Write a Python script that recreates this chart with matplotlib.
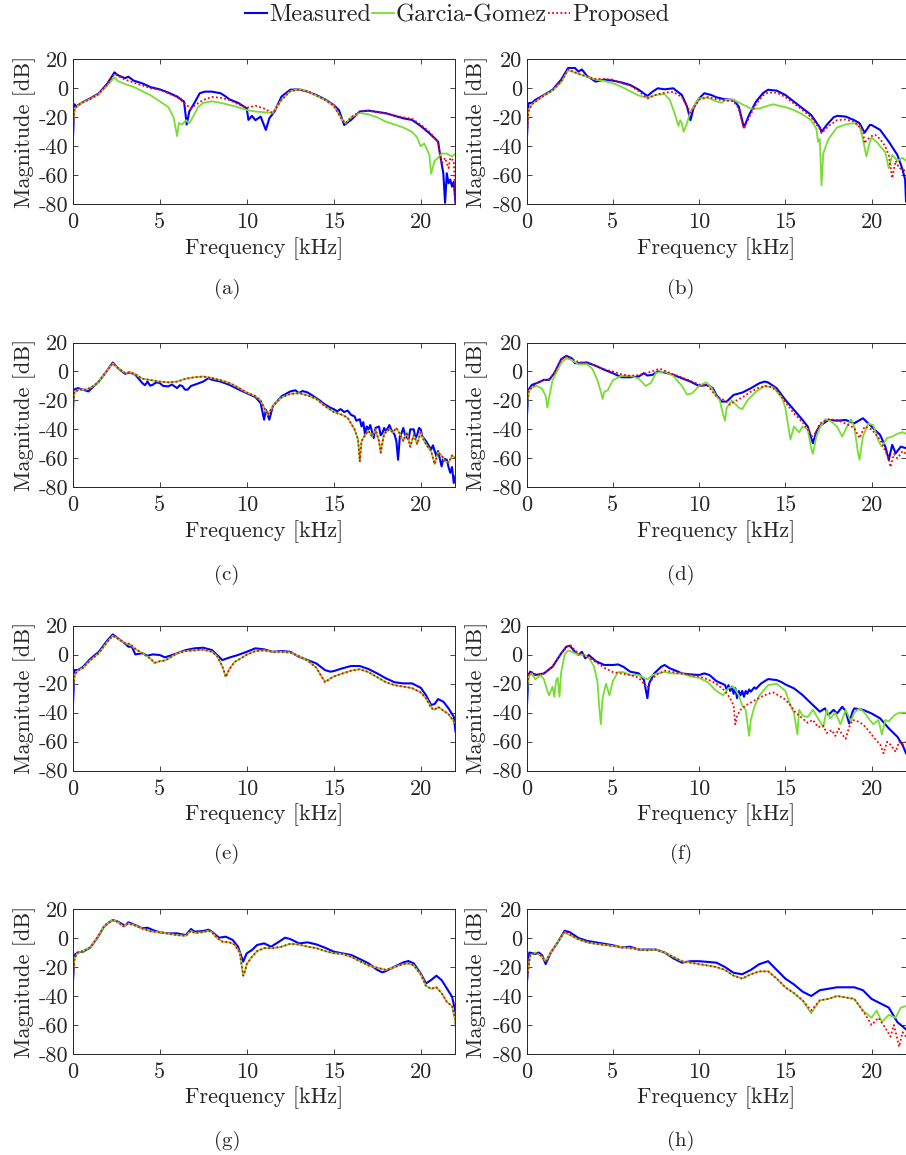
import matplotlib
matplotlib.use("Agg")
import matplotlib.pyplot as plt
import numpy as np

plt.rcParams['font.family'] = ['cmr10', 'DejaVu Serif']
plt.rcParams['mathtext.fontset'] = 'cm'
plt.rcParams['axes.unicode_minus'] = False
plt.rcParams['axes.formatter.use_mathtext'] = False

# ---------------- data (frequency kHz, magnitude dB) ----------------
A_MEAS = [(0.0,-38),(0.1,-11),(0.2,-12.6),(0.5,-10),(1.0,-7),(1.5,-3.5),(2.0,3.4),(2.4,11),(2.6,9),(3.0,7),(3.2,8),
          (3.5,5.3),(4.0,3.4),(4.5,0.7),(5.0,-0.7),(5.5,-3),(6.0,-5.7),(6.4,-9.2),(6.5,-19.5),(6.55,-25),(6.7,-16),
          (7.0,-10),(7.3,-3.4),(7.6,-2.3),(8.0,-2.3),(8.5,-3.4),(8.8,-5.7),(9.0,-7.6),(9.5,-10),(10.0,-13.8),(10.1,-21.8),
          (10.3,-19),(10.5,-22),(10.8,-19.5),(11.1,-28.7),(11.3,-20.7),(11.6,-16),(12.0,-5.7),(12.5,-1),(13.0,-0.7),
          (13.5,-2.3),(14.0,-4.6),(14.5,-7.6),(15.0,-11.5),(15.3,-15),(15.6,-25.3),(16.0,-21.8),(16.5,-16),(17.0,-15.4),
          (18.0,-17.2),(19.0,-20.7),(19.5,-21.8),(20.0,-26),(20.5,-31),(21.0,-36.8),(21.1,-44.8),(21.3,-58.6),
          (21.4,-79),(21.5,-58.6),(21.6,-65.5),(21.7,-63),(21.8,-67.8),(21.9,-64.4),(22.0,-79)]
A_GG = [(0.0,-30),(0.1,-14),(0.5,-10),(1.0,-7.5),(1.5,-4),(2.0,2),(2.4,7.5),(2.6,5),(3.0,3),(3.5,1),(4.0,-2),(4.5,-5),
        (5.0,-9),(5.5,-13),(5.8,-20),(6.0,-33),(6.1,-24),(6.3,-25),(6.5,-22),(6.7,-24),(6.9,-20),(7.2,-13),(7.5,-10),
        (8.0,-9),(8.5,-10),(9.0,-11.5),(9.5,-13),(10.0,-15),(10.5,-16),(11.0,-16.5),(11.5,-17),(12.0,-8),(12.5,-2),
        (13.0,-0.5),(13.5,-2),(14.0,-5),(14.5,-8),(15.0,-12),(15.5,-22),(15.7,-24),(16.0,-20),(16.5,-17),(17.0,-18),
        (17.5,-20),(18.0,-23),(18.5,-25),(19.0,-27),(19.5,-30),(19.8,-34),(20.0,-40),(20.2,-38),(20.5,-46),(20.6,-59),
        (20.8,-50),(21.0,-48),(21.2,-45),(21.5,-45),(21.8,-47),(22.0,-45)]
A_PROP = [(0.0,-30),(0.1,-14),(0.5,-10),(1.0,-7.5),(1.5,-4),(2.0,3),(2.4,10),(3.0,6),(3.5,4),(4.0,2),(4.5,0),(5.0,-1),
          (5.5,-3.5),(6.0,-6),(6.5,-11),(6.8,-14),(7.0,-12),(7.5,-8),(8.0,-6),(8.5,-6.5),(9.0,-8),(9.5,-11),(10.0,-13.5),
          (10.5,-12),(11.0,-14),(11.5,-17),(12.0,-8),(12.5,-2),(13.0,-1),(13.5,-2),(14.0,-5),(14.5,-8),(15.0,-12),
          (15.5,-22),(15.7,-24),(16.0,-20),(16.5,-16),(17.0,-15.5),(18.0,-17.5),(19.0,-20),(19.5,-21),(20.0,-25),
          (20.5,-30),(21.0,-37),(21.2,-52),(21.4,-48),(21.6,-55),(21.7,-48),(21.9,-50),(22.0,-78)]

B_MEAS = [(0.0,-38),(0.1,-10.3),(0.3,-10),(0.5,-8),(1.0,-4.6),(1.5,-1),(2.0,6),(2.4,14),(2.8,14),(3.0,11.5),(3.2,13),
          (3.5,8.5),(4.0,4.6),(4.5,6),(5.0,5.3),(5.5,4),(6.0,2.3),(6.5,-1),(7.0,-5.3),(7.3,-2.3),(7.6,0),(8.0,-0.7),
          (8.5,0),(9.0,-4.6),(9.3,-12.6),(9.5,-22),(9.7,-12.6),(10.0,-7),(10.3,-3.4),(10.7,-4.6),(11.0,-6.2),(11.5,-7.6),
          (12.0,-8),(12.3,-12.6),(12.6,-27),(12.9,-18.4),(13.3,-9.2),(13.7,-3.4),(14.0,-1),(14.5,-1.6),(15.0,-4.6),
          (15.5,-9.2),(16.0,-13.8),(16.5,-18.4),(17.0,-27),(17.1,-30),(17.4,-25.3),(17.8,-20),(18.0,-19),(18.5,-19.5),
          (19.0,-22),(19.3,-24),(19.6,-30.6),(19.9,-25.3),(20.0,-25.3),(20.5,-28.7),(21.0,-36.8),(21.5,-46),
          (21.8,-56),(21.95,-63),(22.0,-78)]
B_GG = [(0.0,-30),(0.1,-15),(0.3,-11),(1.0,-5),(1.5,-1.5),(2.0,4),(2.4,12.5),(3.0,10),(3.5,8),(4.0,6),(4.5,5),(5.0,3.5),
        (5.5,1),(6.0,-2),(6.5,-5),(7.0,-6.5),(7.5,-4.5),(8.0,-4),(8.3,-8),(8.6,-18),(8.8,-26),(8.9,-22),(9.0,-24),
        (9.1,-30),(9.3,-24),(9.5,-16),(10.0,-7),(10.5,-6.5),(11.0,-9),(11.3,-10),(11.5,-8),(12.0,-8),(12.5,-11),
        (13.0,-14),(13.5,-14),(14.0,-12),(14.3,-11),(14.6,-12),(15.0,-13),(15.5,-15),(16.0,-18),(16.5,-22),(16.8,-28),
        (16.9,-37),(17.0,-35),(17.1,-67),(17.2,-45),(17.5,-35),(18.0,-27),(18.5,-25),(19.0,-24),(19.3,-26),(19.5,-35),
        (19.7,-47),(19.9,-37),(20.0,-34),(20.3,-37),(20.5,-40),(20.8,-44),(21.0,-55),(21.2,-46),(21.5,-50),
        (21.8,-48),(22.0,-50)]
B_PROP = [(0.0,-36),(0.1,-16),(0.3,-11),(1.0,-5),(1.5,-1.5),(2.0,5),(2.4,13),(3.0,10),(3.5,8),(4.0,6.5),(4.5,6.5),
          (5.0,6),(5.5,3.5),(6.0,2),(6.5,-2),(7.0,-7),(7.5,-4.5),(8.0,-3),(8.5,-2.5),(9.0,-6),(9.5,-17),(10.0,-8),
          (10.5,-6),(11.0,-7.5),(11.5,-8.5),(12.0,-9),(12.3,-14),(12.6,-28),(12.9,-20),(13.3,-11),(13.7,-5),(14.0,-3),
          (14.5,-3),(15.0,-6),(15.5,-10.5),(16.0,-15),(16.5,-20),(17.0,-28),(17.1,-31),(17.5,-26),(18.0,-22),
          (18.5,-21.5),(19.0,-23),(19.5,-29),(19.6,-38),(19.7,-36),(20.0,-33),(20.2,-32),(20.5,-35),(20.8,-40),
          (21.0,-46),(21.2,-62),(21.4,-50),(21.6,-55),(21.8,-56),(22.0,-57)]

C_MEAS = [(0.0,-35.6),(0.05,-12.6),(0.3,-11.5),(0.6,-12.6),(0.9,-13.8),(1.2,-10.3),(1.5,-7),(2.0,1),(2.3,6.2),(2.6,2.3),
          (3.0,-1.6),(3.3,-0.7),(3.6,-2.3),(4.0,-8),(4.15,-9.5),(4.3,-7),(4.45,-9.8),(4.6,-9.2),(4.8,-7.5),(5.0,-8),
          (5.2,-10),(5.5,-10.3),(5.7,-9),(6.0,-11.5),(6.15,-9.5),(6.3,-10),(6.45,-12.5),(6.6,-12.6),(6.8,-10),(7.0,-9.2),
          (7.5,-7),(7.8,-4.6),(8.0,-5.7),(8.5,-7),(9.0,-9.2),(9.5,-12.2),(10.0,-15),(10.5,-17.7),
          (10.8,-21.8),(11.0,-33.3),(11.1,-26.4),(11.3,-33.3),(11.5,-24),(12.0,-17.2),(12.5,-13.8),(12.8,-13),
          (13.0,-15),(13.2,-13.5),(13.5,-14.5),(13.7,-16),(14.0,-18.4),(14.2,-20),(14.4,-22),(14.6,-23.5),(14.8,-25),
          (15.0,-26),(15.2,-27.5),(15.4,-26),(15.6,-28),(15.8,-27),(16.0,-30),(16.2,-31),(16.3,-34),(16.5,-33),
          (16.6,-38),(16.7,-35),(16.8,-43.7),(16.9,-38),(17.0,-40),(17.1,-37),(17.3,-46),(17.4,-39),(17.6,-38),
          (17.7,-44),(17.8,-42.5),(17.9,-39),(18.0,-41.4),(18.2,-37),(18.3,-40),(18.5,-43.7),(18.6,-48),(18.7,-61),
          (18.8,-45),(18.9,-42.5),(19.0,-39),(19.1,-44),(19.3,-47),(19.4,-40),(19.6,-40),(19.7,-46),(19.8,-43.7),
          (19.9,-39),(20.0,-40),(20.1,-45),(20.3,-48),(20.4,-50),(20.6,-54),(20.7,-51),(20.9,-58.6),(21.0,-55),
          (21.2,-65.5),(21.3,-60),(21.5,-61),(21.6,-66),(21.7,-70),(21.8,-66),(21.9,-77),(22.0,-72)]
C_GG = [(0.0,-27),(0.1,-14),(0.4,-12.5),(0.8,-12.5),(1.2,-10),(1.5,-7),(2.0,1),(2.3,5.5),(2.6,2.5),(3.0,-1),(3.3,-0.5),
        (3.6,-2),(4.0,-5),(4.5,-6),(5.0,-7),(5.5,-7.5),(6.0,-7),(6.5,-5),(7.0,-4),(7.5,-3.5),(8.0,-4.5),(8.5,-6),
        (9.0,-8),(9.5,-11),(10.0,-14.5),(10.5,-17),(10.8,-20),(11.0,-25),(11.2,-30),(11.4,-26),(11.7,-21),(12.0,-18),
        (12.5,-15.5),(13.0,-15),(13.5,-16.5),(14.0,-19),(14.5,-24),(15.0,-28),(15.5,-30),(15.8,-32),(16.0,-36),
        (16.2,-40),(16.4,-47),(16.5,-62),(16.6,-48),(16.8,-44),(17.0,-41),(17.2,-45),(17.4,-40),(17.6,-48),(17.7,-56),
        (17.9,-43),(18.2,-40),(18.4,-42),(18.6,-39),(18.8,-43),(19.0,-48),(19.2,-42),(19.4,-52),(19.6,-44),(19.8,-50),
        (20.0,-42),(20.2,-48),(20.4,-52),(20.6,-55),(20.8,-64),(21.0,-56),(21.2,-58),(21.4,-62),(21.6,-63),
        (21.8,-58),(22.0,-60)]
C_PROP = [(0.0,-27),(0.1,-14),(0.4,-12.5),(0.8,-12.5),(1.2,-10),(1.5,-7),(2.0,1),(2.3,5.5),(2.6,2.5),(3.0,-1),
          (3.3,-0.5),(3.6,-2),(4.0,-5),(4.5,-6),(5.0,-7),(5.5,-7.5),(6.0,-7),(6.5,-5),(7.0,-4),(7.5,-3.5),(8.0,-4.5),
          (8.5,-6),(9.0,-8),(9.5,-11),(10.0,-14.5),(10.5,-17),(10.8,-20),(11.0,-25),(11.2,-30),(11.4,-26),(11.7,-21),
          (12.0,-18),(12.5,-15.5),(13.0,-15),(13.5,-16.5),(14.0,-19),(14.5,-24),(15.0,-28),(15.5,-30),(15.8,-32),
          (16.0,-36),(16.2,-40),(16.4,-47),(16.5,-62),(16.6,-48),(16.8,-44),(17.0,-41),(17.2,-45),(17.4,-40),
          (17.6,-48),(17.7,-56),(17.9,-43),(18.2,-40),(18.4,-42),(18.6,-39),(18.8,-43),(19.0,-48),(19.2,-42),
          (19.4,-52),(19.6,-44),(19.8,-50),(20.0,-42),(20.2,-48),(20.4,-52),(20.6,-55),(20.8,-64),(21.0,-56),
          (21.2,-58),(21.4,-62),(21.6,-63),(21.8,-58),(22.0,-60)]

D_MEAS = [(0.0,-33.5),(0.1,-12.7),(0.3,-9.3),(0.6,-8),(1.0,-5.8),(1.3,-5.8),(1.6,-1.2),(2.0,8.5),(2.3,10.8),(2.6,9.2),
          (2.8,5.7),(3.0,5.7),(3.5,6.2),(4.0,3.9),(4.5,1.2),(5.0,-1.2),(5.5,-4),(6.0,-4),(6.5,-3.5),(6.8,-1.2),
          (7.0,-2.8),(7.3,-2.3),(7.6,0),(8.0,-0.7),(8.5,-2.3),(9.0,-4.7),(9.5,-7),(10.0,-10),(10.5,-9.3),(10.8,-11.6),
          (11.0,-16.2),(11.3,-20.8),(11.6,-20.8),(12.0,-16.2),(12.5,-14.6),(13.0,-11.6),(13.5,-8.1),(13.8,-7),
          (14.0,-7.6),(14.5,-11.6),(15.0,-19.6),(15.5,-26.5),(16.0,-33.5),(16.3,-38),(16.6,-49.6),(16.8,-41.5),
          (17.0,-37.6),(17.5,-33.5),(18.0,-34),(18.5,-33.5),(19.0,-35.8),(19.5,-32.3),(20.0,-38),(20.5,-43.8),
          (20.8,-51.9),(21.0,-61),(21.2,-50.7),(21.4,-56.5),(21.7,-51.9),(22.0,-53)]
D_GG = [(0.0,-28),(0.1,-14),(0.3,-11),(0.6,-10),(0.9,-12),(1.1,-17),(1.2,-25),(1.3,-18),(1.5,-6),(2.0,6),(2.3,9),
        (2.6,8),(3.0,5),(3.5,5),(3.8,2),(4.1,-6),(4.3,-14),(4.4,-19),(4.5,-14),(4.7,-13),(5.0,-6),(5.5,-3),(6.0,-3),
        (6.5,-5),(6.9,-10),(7.2,-8),(7.5,-1),(8.0,0),(8.5,-3),(9.0,-10),(9.3,-16),(9.6,-15),(10.0,-10),(10.4,-7.5),
        (10.7,-11),(11.0,-17),(11.2,-20),(11.4,-30),(11.5,-34),(11.6,-25),(11.9,-20),(12.3,-25),(12.5,-26),(12.8,-20),
        (13.3,-14),(13.8,-10),(14.3,-11),(14.8,-18),(15.0,-25),(15.2,-40),(15.3,-47),(15.5,-38),(15.8,-42),(16.0,-38),
        (16.3,-40),(16.5,-53),(16.6,-57),(16.8,-45),(17.0,-39),(17.3,-33),(17.6,-34),(18.0,-38),(18.3,-45),(18.5,-40),
        (18.8,-33),(19.0,-38),(19.2,-55),(19.3,-61),(19.5,-45),(19.8,-36),(20.1,-37),(20.4,-48),(20.6,-52),
        (20.9,-46),(21.2,-45),(21.5,-43),(21.8,-42),(22.0,-43)]
D_PROP = [(0.0,-26),(0.1,-14),(0.3,-11),(0.6,-8),(1.0,-6),(1.3,-5.5),(1.6,-1),(2.0,8),(2.3,10.5),(2.6,9),(3.0,6.5),
          (3.5,6),(4.0,4),(4.5,1.5),(5.0,0),(5.5,-2),(6.0,-3),(6.5,-2.5),(7.0,-1),(7.5,1),(7.7,2),(8.0,0.5),(8.5,-2),
          (9.0,-4),(9.5,-6.5),(10.0,-9),(10.5,-10),(11.0,-17),(11.5,-20),(11.8,-23),(12.0,-21),(12.5,-18),(13.0,-14),
          (13.5,-11),(14.0,-10),(14.5,-13),(15.0,-21),(15.5,-29),(16.0,-35),(16.3,-40),(16.5,-45),(16.8,-42),
          (17.0,-36),(17.5,-33),(18.0,-33.5),(18.5,-36),(19.0,-39),(19.3,-46),(19.6,-38),(20.0,-40),(20.5,-47),
          (20.8,-55),(21.0,-60),(21.1,-66),(21.3,-57),(21.5,-60),(21.8,-55),(22.0,-57)]

E_MEAS = [(0.0,-38.9),(0.1,-10.6),(0.3,-10.6),(0.6,-8.3),(1.0,-3),(1.5,2),(2.0,10),(2.3,14),(2.6,11.3),(3.0,7.8),
          (3.2,5.5),(3.4,5.5),(3.6,0.2),(4.0,1),(4.3,-0.7),(4.6,0.2),(5.0,-0.2),(5.3,-1.8),(5.6,-0.7),(6.0,1),
          (6.5,3.2),(7.0,4.4),(7.5,4.8),(8.0,3.2),(8.3,-0.2),(8.6,-3.7),(9.0,-2),(9.5,-0.2),(10.0,2),(10.5,4.4),
          (11.0,3.7),(11.5,2),(12.0,2.5),(12.5,2),(13.0,-1.4),(13.5,-3.7),(14.0,-6),(14.5,-10.6),(14.8,-11.7),
          (15.0,-11.3),(15.5,-9.4),(16.0,-7.8),(16.5,-7.8),(17.0,-9.9),(17.5,-12.9),(18.0,-16.3),(18.5,-19),
          (19.0,-19.8),(19.5,-19.8),(20.0,-22.8),(20.3,-27.8),(20.6,-34.7),(20.8,-34),(21.0,-30.6),(21.3,-32.4),
          (21.6,-37),(21.9,-42.8),(22.0,-53)]
E_GG = [(0.0,-26),(0.1,-14),(0.3,-11),(0.6,-9),(1.0,-4),(1.5,1),(2.0,9),(2.3,13),(2.6,11),(3.0,8),(3.3,7),(3.6,4),
        (4.0,1),(4.5,-3),(4.7,-6),(5.0,-4.5),(5.3,-4),(5.6,-2),(6.0,1),(6.5,2.5),(7.0,3),(7.5,3.5),(8.0,2),(8.3,-1),
        (8.6,-8),(8.8,-15),(9.0,-10),(9.3,-5),(9.6,-3),(10.0,0),(10.5,2.5),(11.0,3),(11.5,2),(12.0,2),(12.5,1.5),
        (13.0,-1),(13.5,-4),(14.0,-9),(14.3,-15),(14.5,-18.5),(14.8,-16.5),(15.0,-15),(15.5,-13),(16.0,-11),
        (16.5,-10),(17.0,-12),(17.5,-15.5),(18.0,-19),(18.5,-21),(19.0,-22),(19.5,-23),(20.0,-26),(20.3,-30),
        (20.6,-36),(20.8,-38),(21.0,-36),(21.3,-38.5),(21.6,-41),(21.9,-46),(22.0,-47)]
E_PROP = [(0.0,-27),(0.1,-14),(0.3,-11),(0.6,-9),(1.0,-4),(1.5,1),(2.0,9),(2.3,13),(2.6,11),(3.0,8),(3.3,7.5),
          (3.6,4),(4.0,1),(4.5,-3),(4.7,-5.5),(5.0,-4.5),(5.3,-4),(5.6,-2),(6.0,1),(6.5,2.5),(7.0,3),(7.5,3.5),(8.0,2),
          (8.3,-1),(8.6,-8),(8.8,-15.5),(9.0,-10),(9.3,-5),(9.6,-3),(10.0,0),(10.5,2.5),(11.0,3),(11.5,2),(12.0,2),
          (12.5,1.5),(13.0,-1),(13.5,-4),(14.0,-9),(14.3,-15),(14.5,-19),(14.8,-16.5),(15.0,-15),(15.5,-13),
          (16.0,-11),(16.5,-10),(17.0,-12),(17.5,-15.5),(18.0,-19),(18.5,-21),(19.0,-22),(19.5,-23),(20.0,-26),
          (20.3,-30),(20.6,-37),(20.8,-38),(21.0,-36),(21.3,-38.5),(21.6,-41),(21.9,-46),(22.0,-45)]

F_MEAS = [(0.0,-39),(0.1,-14),(0.2,-11.7),(0.5,-14),(1.0,-12.9),(1.5,-8.3),(2.0,0.9),(2.3,5.5),(2.5,6.2),(2.8,2),
          (3.0,-0.2),(3.2,2),(3.4,-2.5),(3.6,-0.2),(4.0,-4.4),(4.5,-7.1),(5.0,-7.1),(5.3,-6.7),(5.6,-8.3),(6.0,-11.7),
          (6.5,-12.9),(6.8,-17.5),(7.0,-30),(7.1,-19.8),(7.4,-12.9),(7.8,-8.3),(8.0,-7.1),(8.3,-9.4),(8.7,-11.3),
          (9.0,-12.9),(9.5,-13.6),(10.0,-14),(10.3,-12.9),(10.6,-14),(11.0,-18.2),(11.3,-19.8),(11.5,-20.9),
          (11.6,-24),(11.7,-21),(11.8,-25),(11.9,-22),(12.0,-27),(12.1,-23),(12.2,-30),(12.3,-25),(12.4,-28),
          (12.5,-25),(12.6,-29),(12.7,-25),(12.8,-27),(12.9,-24),(13.0,-25.5),(13.2,-22.5),(13.3,-23.5),
          (13.6,-19.8),(14.0,-16.8),(14.5,-17.5),(14.8,-19),(15.0,-20.5),(15.5,-23.2),(16.0,-27.8),(16.5,-33.6),
          (16.8,-37),(17.0,-39.3),(17.3,-37),(17.5,-41.6),(17.8,-38),(18.0,-40.5),(18.3,-35.9),(18.5,-38.9),
          (18.7,-47.4),(18.9,-39.3),(19.0,-37),(19.5,-38),(20.0,-40.5),(20.5,-43.9),(21.0,-50.8),(21.5,-56.6),
          (21.8,-62.3),(22.0,-68)]
F_GG = [(0.0,-28),(0.1,-15),(0.3,-13),(0.5,-17),(0.8,-14),(1.0,-17),(1.2,-25),(1.3,-28),(1.5,-22),(1.6,-29),(1.7,-18),
        (1.8,-16),(1.9,-29),(2.0,-12),(2.2,0),(2.4,3),(2.6,2),(3.0,0),(3.3,0),(3.6,-2),(3.9,-8),(4.1,-18),(4.2,-35),
        (4.3,-48),(4.4,-30),(4.6,-20),(4.8,-28),(5.0,-18),(5.3,-12),(5.6,-12),(6.0,-14),(6.5,-14),(6.8,-16),(7.0,-17),
        (7.3,-14),(7.6,-13),(8.0,-12),(8.5,-13),(9.0,-13),(9.5,-15),(10.0,-16),(10.5,-19),(11.0,-25),(11.4,-28),
        (11.7,-23),(12.0,-22),(12.3,-28),(12.5,-35),(12.7,-38),(12.9,-56),(13.0,-45),(13.2,-36),(13.5,-28),(14.0,-21),
        (14.5,-20),(15.0,-25),(15.3,-35),(15.5,-40),(15.7,-55),(15.8,-38),(16.0,-42),(16.3,-43),(16.6,-38),
        (16.9,-44),(17.2,-50),(17.4,-38),(17.6,-44),(17.9,-40),(18.2,-48),(18.5,-38),(18.8,-46),(19.0,-40),
        (19.3,-37),(19.6,-40),(19.9,-45),(20.1,-48),(20.4,-45),(20.6,-55),(20.8,-45),(21.0,-46),(21.3,-42),
        (21.6,-40),(22.0,-40)]
F_PROP = [(0.0,-26),(0.1,-14),(0.3,-12),(0.6,-14),(1.0,-13),(1.5,-8),(2.0,1),(2.3,5),(2.5,7),(2.8,3),(3.0,1),
          (3.5,-1),(4.0,-5),(4.5,-9),(5.0,-12),(5.5,-13),(6.0,-14),(6.5,-16),(6.8,-20),(7.0,-23),(7.2,-18),(7.5,-14),
          (8.0,-11),(8.5,-12),(9.0,-13),(9.5,-14),(10.0,-15),(10.5,-17),(11.0,-20),(11.5,-25),(11.8,-30),(12.0,-35),
          (12.1,-48),(12.2,-42),(12.4,-38),(12.7,-35),(13.0,-33),(13.3,-31),(13.6,-29),(14.0,-27),(14.3,-26),
          (14.6,-28),(15.0,-31),(15.3,-35),(15.6,-40),(16.0,-44),(16.3,-47),(16.6,-45),(16.9,-50),(17.2,-49),
          (17.4,-54),(17.7,-52),(17.9,-56),(18.1,-51),(18.3,-55),(18.5,-58),(18.7,-50),(18.9,-45),(19.2,-46),
          (19.5,-48),(19.8,-52),(20.0,-55),(20.2,-58),(20.5,-62),(20.7,-68),(20.9,-60),(21.1,-62),(21.4,-67),
          (21.6,-60),(21.8,-62),(22.0,-60)]

G_MEAS = [(0.0,-33.6),(0.1,-11.7),(0.3,-9.9),(0.6,-9.4),(1.0,-6.7),(1.4,-0.2),(1.8,7.8),(2.0,10),(2.3,12.4),
          (2.6,11.3),(3.0,8.5),(3.2,10.8),(3.5,9.4),(4.0,6.7),(4.3,7.1),(4.6,5.5),(5.0,3.9),(5.5,3.2),(6.0,3.2),
          (6.5,2),(6.8,6.2),(7.0,4.4),(7.5,4.8),(7.8,5.7),(8.0,4.4),(8.4,0.2),(8.8,0.9),(9.2,-1.4),(9.5,-6),
          (9.7,-12.9),(9.8,-16.3),(10.0,-10.6),(10.3,-8.3),(10.6,-4.8),(11.0,-3.7),(11.4,-6),(11.8,-3),(12.2,0.2),
          (12.5,-0.7),(13.0,-3.7),(13.5,-3),(14.0,-4.4),(14.5,-6.7),(15.0,-9.4),(15.5,-10.6),(16.0,-11.7),
          (16.5,-14.5),(17.0,-17.5),(17.5,-22),(17.8,-23.7),(18.0,-22.8),(18.5,-19.8),(19.0,-16.8),(19.3,-15.9),
          (19.6,-17.5),(20.0,-24.4),(20.3,-31.3),(20.6,-29),(20.9,-26),(21.2,-29),(21.5,-34.7),(21.8,-40.5),
          (22.0,-50.8),(22.05,-71)]
G_GG = [(0.0,-28),(0.1,-14),(0.3,-10),(0.6,-9),(1.0,-6.5),(1.4,0),(1.8,8),(2.0,10),(2.3,12.5),(2.6,11),(2.9,8),
        (3.2,10),(3.5,9),(4.0,6.5),(4.5,4.5),(5.0,4),(5.5,3),(6.0,2),(6.5,1.5),(6.8,5),(7.0,3.5),(7.5,4),(7.8,5),
        (8.0,4),(8.3,0),(8.6,-2.5),(9.0,-3),(9.3,-4.5),(9.6,-10),(9.8,-26),(9.9,-23),(10.0,-18),(10.3,-13),(10.6,-9),
        (11.0,-7),(11.5,-7),(12.0,-6),(12.5,-4),(13.0,-4.5),(13.5,-6),(14.0,-7),(14.5,-9),(15.0,-10.5),(15.5,-11),
        (16.0,-13),(16.5,-16),(17.0,-19),(17.5,-20.5),(18.0,-22),(18.5,-20),(19.0,-18),(19.3,-17.5),(19.6,-19),
        (20.0,-25),(20.3,-33),(20.6,-35),(20.9,-34),(21.2,-38),(21.5,-44),(21.8,-47),(22.0,-58),(22.05,-66)]
G_PROP = [(0.0,-30),(0.1,-14),(0.3,-10),(0.6,-9),(1.0,-6.5),(1.4,0),(1.8,8),(2.0,10),(2.3,12.5),(2.6,11),(2.9,8),
          (3.2,10),(3.5,9),(4.0,6.5),(4.5,4.5),(5.0,4),(5.5,3),(6.0,2),(6.5,1.5),(6.8,5),(7.0,3.5),(7.5,4),(7.8,5),
          (8.0,4),(8.3,0),(8.6,-2.5),(9.0,-3),(9.3,-4.5),(9.6,-10),(9.8,-26),(9.9,-23),(10.0,-18),(10.3,-13),
          (10.6,-9),(11.0,-7),(11.5,-7),(12.0,-6),(12.5,-4),(13.0,-4.5),(13.5,-6),(14.0,-7),(14.5,-9),(15.0,-10.5),
          (15.5,-11),(16.0,-13),(16.5,-16),(17.0,-19),(17.5,-20.5),(18.0,-22),(18.5,-20),(19.0,-18),(19.3,-17.5),
          (19.6,-19),(20.0,-25),(20.3,-33),(20.6,-35),(20.9,-34),(21.2,-38),(21.5,-44),(21.8,-47),(22.0,-56),
          (22.05,-68)]

H_MEAS = [(0.0,-33),(0.15,-10),(0.5,-11),(0.7,-10),(0.9,-12),(1.1,-18),(1.4,-10),(1.8,-3),(2.2,5),(2.5,4),(3.0,0),
          (3.5,-2),(4.0,-3),(5.0,-5),(5.5,-6.5),(6.0,-6),(6.5,-8),(7.0,-8),(7.5,-8),(8.0,-10),(8.5,-14),(9.0,-17),
          (9.5,-16),(10.0,-16),(10.5,-16.5),(11.0,-17),(11.5,-20),(12.0,-24),(12.5,-25),(13.0,-22),(13.5,-18),
          (14.0,-16),(14.5,-22),(15.0,-28),(15.5,-32),(16.0,-37),(16.5,-40),(17.0,-36),(18.0,-34),(19.0,-34),
          (19.5,-36),(20.0,-42),(20.5,-45),(21.0,-48),(21.5,-58),(22.0,-63)]
H_GG = [(0.0,-28),(0.2,-12),(0.5,-10),(0.8,-12),(1.1,-16),(1.4,-10),(1.8,-3),(2.2,4),(2.5,2),(3.0,-1),(3.5,-3),
        (4.0,-4),(5.0,-5.5),(6.0,-7),(7.0,-8.5),(7.5,-8),(8.0,-10),(8.5,-13),(9.0,-16),(10.0,-18),(11.0,-20),
        (11.5,-22),(12.0,-26),(12.5,-28),(13.0,-25),(13.5,-23),(14.0,-23),(14.5,-28),(15.0,-34),(15.5,-38),
        (16.0,-43),(16.5,-52),(17.0,-43),(17.5,-42),(18.0,-40),(19.0,-42),(19.5,-50),(20.0,-55),(20.3,-50),
        (20.6,-58),(21.0,-53),(21.4,-55),(21.7,-48),(22.0,-47)]
H_PROP = [(0.0,-30),(0.2,-12),(0.5,-10),(0.8,-12),(1.1,-16),(1.4,-10),(1.8,-3),(2.2,4.5),(2.5,2.5),(3.0,-1),
          (3.5,-3),(4.0,-4),(5.0,-5.5),(6.0,-7),(7.0,-8.5),(7.5,-8),(8.0,-10),(8.5,-13),(9.0,-16),(10.0,-18),
          (11.0,-20),(11.5,-22),(12.0,-26),(12.5,-28),(13.0,-25),(13.5,-23),(14.0,-23),(14.5,-28),(15.0,-34),
          (15.5,-38),(16.0,-43),(16.5,-50),(17.0,-43),(17.5,-42),(18.0,-40),(19.0,-42),(19.6,-52),(20.0,-60),
          (20.4,-55),(20.8,-62),(21.1,-68),(21.3,-60),(21.6,-75),(21.8,-65),(22.0,-68)]

SERIES = ["Measured", "Garcia-Gomez", "Proposed"]
PANEL_LABELS = ["(a)", "(b)", "(c)", "(d)", "(e)", "(f)", "(g)", "(h)"]
PANELS = [(A_MEAS, A_GG, A_PROP), (B_MEAS, B_GG, B_PROP), (C_MEAS, C_GG, C_PROP), (D_MEAS, D_GG, D_PROP),
          (E_MEAS, E_GG, E_PROP), (F_MEAS, F_GG, F_PROP), (G_MEAS, G_GG, G_PROP), (H_MEAS, H_GG, H_PROP)]
X_TICKS = [0, 5, 10, 15, 20]
Y_TICKS = [-80, -60, -40, -20, 0, 20]

# ---------------- layout ----------------
W, H = 906, 1155
fig = plt.figure(figsize=(W / 100, H / 100), dpi=100)

col_x = [(72.7, 455.5), (526.7, 906.0)]
row_y = [(59.3, 204.3), (342.5, 487.3), (625.7, 770.7), (909.0, 1054.0)]
cap_y = [288.5, 575.0, 853.5, 1141.0]
cap_x = [227.0, 681.0]

TXT = '#262626'
styles = [dict(color='#0000ff', lw=1.5, ls='-'),
          dict(color='#77dd33', lw=1.3, ls='-'),
          dict(color='#ff0000', lw=1.3, ls=(0, (1, 1.3)))]

handles = None
for i, curves in enumerate(PANELS):
    r, c = divmod(i, 2)
    x0, x1 = col_x[c]
    yt, yb = row_y[r]
    ax = fig.add_axes([x0 / W, 1 - yb / H, (x1 - x0) / W, (yb - yt) / H])
    hs = []
    for data, st, name in zip(curves, styles, SERIES):
        arr = np.array(data)
        h, = ax.plot(arr[:, 0], arr[:, 1], label=name, **st)
        hs.append(h)
    if handles is None:
        handles = hs
    ax.set_xlim(0, 22)
    ax.set_ylim(-80, 20)
    ax.set_xticks(X_TICKS)
    ax.set_yticks(Y_TICKS)
    ax.tick_params(direction='in', top=True, right=True, length=3.5, width=0.6,
                   labelsize=16, colors=TXT, pad=3.2)
    ax.tick_params(axis='x', pad=6)
    for sp in ax.spines.values():
        sp.set_color(TXT)
        sp.set_linewidth(0.7)
    axw, axh = x1 - x0, yb - yt
    ax.set_xlabel("Frequency [kHz]", fontsize=16, color=TXT, va='center')
    ax.xaxis.set_label_coords(0.5, -44.0 / axh)
    ax.set_ylabel("Magnitude [dB]", fontsize=16, color=TXT, va='center')
    ylx = 25.0 if c == 0 else 476.7
    ax.yaxis.set_label_coords(-(x0 - ylx) / axw, 0.5)
    fig.text(cap_x[c] / W, 1 - cap_y[r] / H, PANEL_LABELS[i], fontsize=15, color=TXT,
             ha='center', va='center')

fig.legend(handles, SERIES, loc='center', bbox_to_anchor=(457 / W, 1 - 15 / H), ncol=3, frameon=False,
           fontsize=17.5, handlelength=0.9, handletextpad=0.08, columnspacing=0.05, borderpad=0,
           labelcolor=TXT)

fig.savefig("out.png", dpi=100)
